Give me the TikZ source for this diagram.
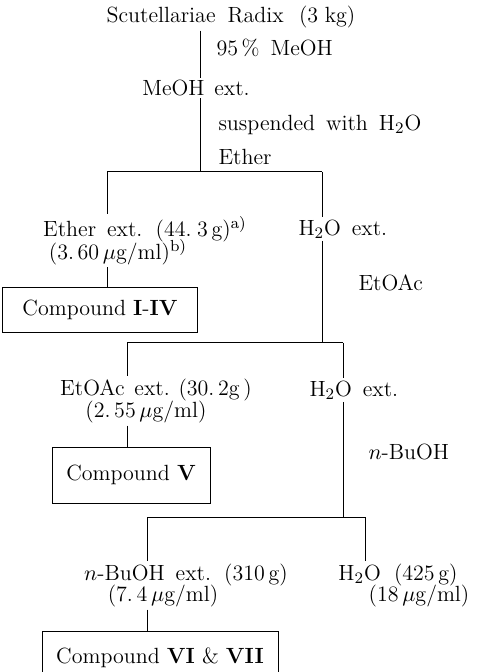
\documentclass[tikz,border=0pt]{standalone}
\begin{document}
\begin{tikzpicture}[
  x=0.5pt,
  y=-0.5pt,
  line width=0.5pt,
  every node/.append style={font=\fontsize{11}{13.2}\selectfont},
  txt/.style={inner sep=1pt},
  cmpd/.style={draw,inner sep=0pt,minimum height=22.5pt}
]
  \useasboundingbox (0,0) rectangle (478,672);

  % Columns of the vertical lines
  \coordinate (c1) at (200,0);
  \coordinate (c2) at (107,0);
  \coordinate (c3) at (322,0);
  \coordinate (c4) at (127,0);
  \coordinate (c5) at (343,0);
  \coordinate (c6) at (147,0);
  \coordinate (c7) at (365,0);

  % Start
  \node[txt] (radix) at (231,17)
    {Scutellariae\hspace{0.55em}Radix\hspace{0.7em}(3\hspace{0.3em}kg)};
  \node[txt,anchor=west] (meohsolv) at (214,48) {95\,\%\hspace{0.5em}MeOH};
  \node[txt] (meohext) at (196,88) {MeOH\hspace{0.45em}ext.};
  \node[txt,anchor=west] (susp) at (216,125)
    {suspended\hspace{0.5em}with\hspace{0.5em}H$_2$O};
  \node[txt,anchor=west] (ether) at (216,157) {Ether};

  % First partition
  \coordinate (bar1l) at (107,172);
  \coordinate (bar1r) at (322,172);
  \node[txt] (etherext) at (145,229)
    {Ether\hspace{0.5em}ext.\hspace{0.6em}(44.\hspace{0.25em}3\,g)$^{\mathrm{a)}}$};
  \node[txt,anchor=west] (wat1) at (296,229) {H$_2$O\hspace{0.5em}ext.};
  \node[txt] (etherconc) at (118,252) {(3.\,60\,$\mu$g/ml)$^{\mathrm{b)}}$};
  \node[txt,anchor=west] (etoac) at (356,283) {EtOAc};
  \node[cmpd,minimum width=97.5pt] (cmpdA) at (100,310)
    {Compound \textbf{I}-\textbf{IV}};

  % Second partition
  \coordinate (bar2l) at (127,343);
  \coordinate (bar2r) at (343,343);
  \node[txt] (etoacext) at (156,390) {EtOAc\hspace{0.45em}ext.\hspace{0.4em}(30.\,2g\,)};
  \node[txt,anchor=west] (wat2) at (307,390) {H$_2$O\hspace{0.5em}ext.};
  \node[txt] (etoacconc) at (146,412) {(2.\,55\,$\mu$g/ml)};
  \node[txt,anchor=west] (buoh) at (366,452) {$n$-BuOH};
  \node[cmpd,minimum width=79pt,minimum height=28pt] (cmpdB) at (131,475)
    {Compound \textbf{V}};

  % Third partition (box runs out below the page)
  \coordinate (bar3l) at (147,517);
  \coordinate (bar3r) at (365,517);
  \node[txt] (buohext) at (186,575)
    {$n$-BuOH\hspace{0.5em}ext.\hspace{0.6em}(310\,g)};
  \node[txt] (wat3) at (398,575) {H$_2$O\hspace{0.6em}(425\,g)};
  \node[txt] (buohconc) at (163,596) {(7.\,4\,$\mu$g/ml)};
  \node[txt] (watconc) at (419,596) {(18\,$\mu$g/ml)};
  \node[cmpd,minimum width=118pt,minimum height=26pt,anchor=north] (cmpdC)
    at (160,631) {Compound \textbf{VI} \& \textbf{VII}};

  % Vertical lines
  \draw (radix.south -| c1) -- (meohext.north -| c1);
  \draw (meohext.south -| c1) -- (bar1l -| c1);
  \draw (bar1l) -- (bar1r);
  \draw (bar1l) -- (etherext.north -| c2);
  \draw (bar1r) -- (wat1.north -| c3);
  \draw (etherconc.south -| c2) -- (cmpdA.north -| c2);
  \draw (wat1.south -| c3) -- (bar2l -| c3);

  \draw (bar2l) -- (bar2r);
  \draw (bar2l) -- (etoacext.north -| c4);
  \draw (bar2r) -- (wat2.north -| c5);
  \draw (etoacconc.south -| c4) -- (cmpdB.north -| c4);
  \draw (wat2.south -| c5) -- (bar3l -| c5);

  \draw (bar3l) -- (bar3r);
  \draw (bar3l) -- (buohext.north -| c6);
  \draw (bar3r) -- (wat3.north -| c7);
  \draw (buohconc.south -| c6) -- (cmpdC.north -| c6);
\end{tikzpicture}
\end{document}
